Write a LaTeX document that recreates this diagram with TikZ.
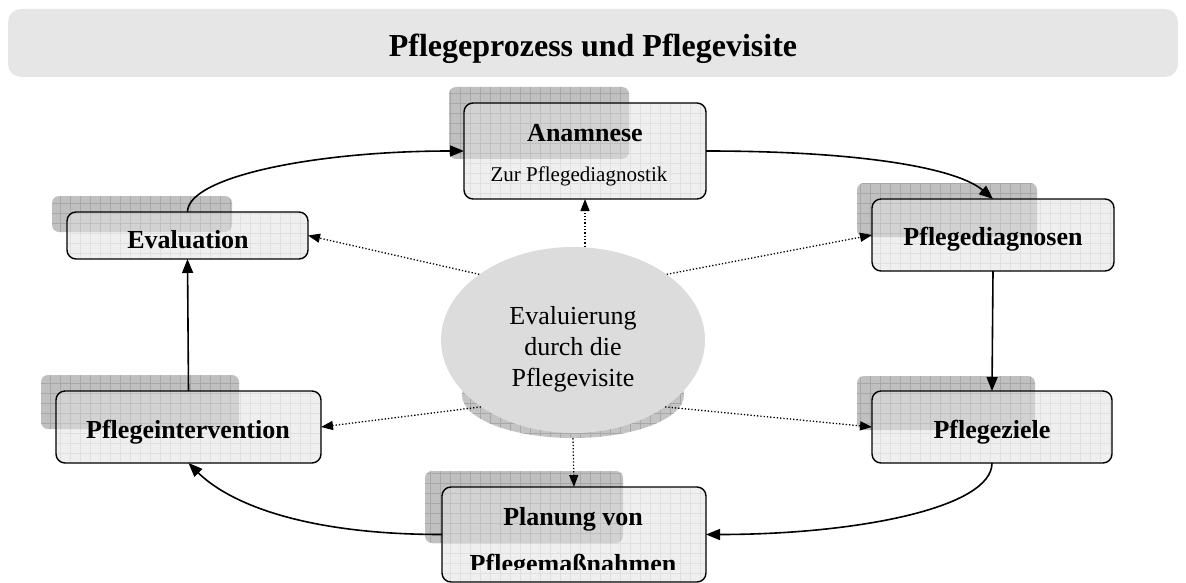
\documentclass[tikz,border=0pt]{standalone}
\usepackage{fontspec}
\setmainfont{Liberation Serif}
\usetikzlibrary{arrows.meta,shapes.geometric,fit,patterns.meta}
\definecolor{titlec}{HTML}{E6E6E6}
\definecolor{boxc}{HTML}{EFEFEF}
\definecolor{boxgrid}{HTML}{E0E0E0}
\definecolor{shadowc}{HTML}{C0C0C0}
\definecolor{shadowgrid}{HTML}{A8A8A8}
\definecolor{shadowin}{HTML}{D2D2D2}
\definecolor{shadowingrid}{HTML}{C0C0C0}
\definecolor{ellc}{HTML}{DCDCDC}
\definecolor{ellsh}{HTML}{C4C4C4}
\newcommand{\procbox}[9]{%
  \path[shadowfill] (#6,#7) rectangle (#8,#9);
  \path[gridpat=shadowgrid, rounded corners=7pt] (#6,#7) rectangle (#8,#9);
  \node[boxnode, fit={(#2,#3) (#4,#5)}] (#1) {};
  \path[gridpat=boxgrid, rounded corners=9pt] (#2,#3) rectangle (#4,#5);
  \begin{scope}
    \clip[rounded corners=9pt] (#2,#3) rectangle (#4,#5);
    \path[fill=shadowin, rounded corners=7pt] (#6,#7) rectangle (#8,#9);
    \path[gridpat=shadowingrid, rounded corners=7pt] (#6,#7) rectangle (#8,#9);
  \end{scope}
  \draw[boxline] (#1.south west) rectangle (#1.north east);
}
\begin{document}
\begin{tikzpicture}[x=1pt,y=-1pt,
  titlebar/.style={fill=titlec, rounded corners=13pt},
  boxnode/.style={fill=boxc, rounded corners=9pt, inner sep=0pt, outer sep=0pt},
  boxline/.style={draw=black, line width=1.4pt, rounded corners=9pt},
  shadowfill/.style={fill=shadowc, rounded corners=7pt},
  gridpat/.style={pattern={Hatch[angle=0,distance=10pt,line width=0.45pt]}, pattern color=#1},
  labelb/.style={font=\fontsize{26}{31}\selectfont\bfseries, anchor=base, inner sep=0pt},
  labeln/.style={font=\fontsize{21}{25}\selectfont, anchor=base, inner sep=0pt},
  flow/.style={line width=1.6pt, -{Triangle[length=14pt,width=11pt]}},
  dotflow/.style={line width=1.3pt, dash pattern=on 1.3pt off 2pt, -{Triangle[length=12pt,width=9pt]}}
]
\useasboundingbox (0,0) rectangle (1186,583);
% title
\path[titlebar] (8,9) rectangle (1178,77);
\node[font=\fontsize{32}{38}\selectfont\bfseries, anchor=base, inner sep=0pt] (title) at (593,57) {Pflegeprozess und Pflegevisite};
% boxes
\procbox{anam}{464}{103}{706}{199}{449}{87}{629}{159}
\procbox{evalb}{67}{212}{308}{259}{52}{196}{232}{232}
\procbox{pdiag}{872}{199}{1114}{271}{857}{183}{1037}{237}
\procbox{pziel}{872}{391}{1112}{463}{857}{376}{1035}{430}
\procbox{pint}{56}{391}{321}{463}{41}{375}{239}{429}
\procbox{plan}{442}{487}{706}{582}{425}{471}{623}{543}
% labels
\node[labelb] (tanam) at (585,142) {Anamnese};
\node[labeln] (tanam2) at (579,182) {Zur Pflegediagnostik};
\node[labelb] (tevalb) at (188,248) {Evaluation};
\node[labelb] (tpdiag) at (993,245) {Pflegediagnosen};
\node[labelb] (tpziel) at (992,438) {Pflegeziele};
\node[labelb] (tpint) at (188,438) {Pflegeintervention};
\node[labelb] (tplan) at (573,525) {Planung von};
\begin{scope}
  \clip (430,540) rectangle (720,569);
  \node[labelb] (tplan2) at (573,572) {Pflegemaßnahmen};
\end{scope}
% central ellipse
\node[ellipse, fill=ellsh, minimum width=222pt, minimum height=86pt, inner sep=0pt,
  postaction={pattern={Hatch[angle=0,distance=10pt,line width=0.45pt]}, pattern color=shadowgrid}] (evalsh) at (573,395) {};
\node[ellipse, fill=ellc, minimum width=264pt, minimum height=186pt, inner sep=0pt] (evalu) at (573,340) {};
\node[align=center, font=\fontsize{26}{31}\selectfont, inner sep=0pt] (tevalu) at (573,349) {Evaluierung\\durch die\\Pflegevisite};
% dotted connectors
\draw[dotflow] (evalu.north -| anam.south) -- (anam.south);
\draw[dotflow] (evalu.145) -- (evalb.east);
\draw[dotflow] (evalu.35) -- (pdiag.west);
\draw[dotflow] (evalu.216) -- (pint.east);
\draw[dotflow] (evalu.324) -- (pziel.west);
\draw[dotflow] (evalsh.south) -- (plan.north);
% cycle connectors
\draw[flow] (evalb.north) .. controls +(0,-35) and +(-150,0) .. (anam.west);
\draw[flow] (anam.east) .. controls +(160,0) and +(-35,-30) .. (pdiag.north);
\draw[flow] (pdiag.south) -- (pziel.north);
\draw[flow] (pziel.south) .. controls +(0,45) and +(150,0) .. (plan.east);
\draw[flow] (plan.west) .. controls +(-150,0) and +(35,35) .. (pint.south);
\draw[flow] (pint.north) -- (evalb.south);
\end{tikzpicture}
\end{document}
